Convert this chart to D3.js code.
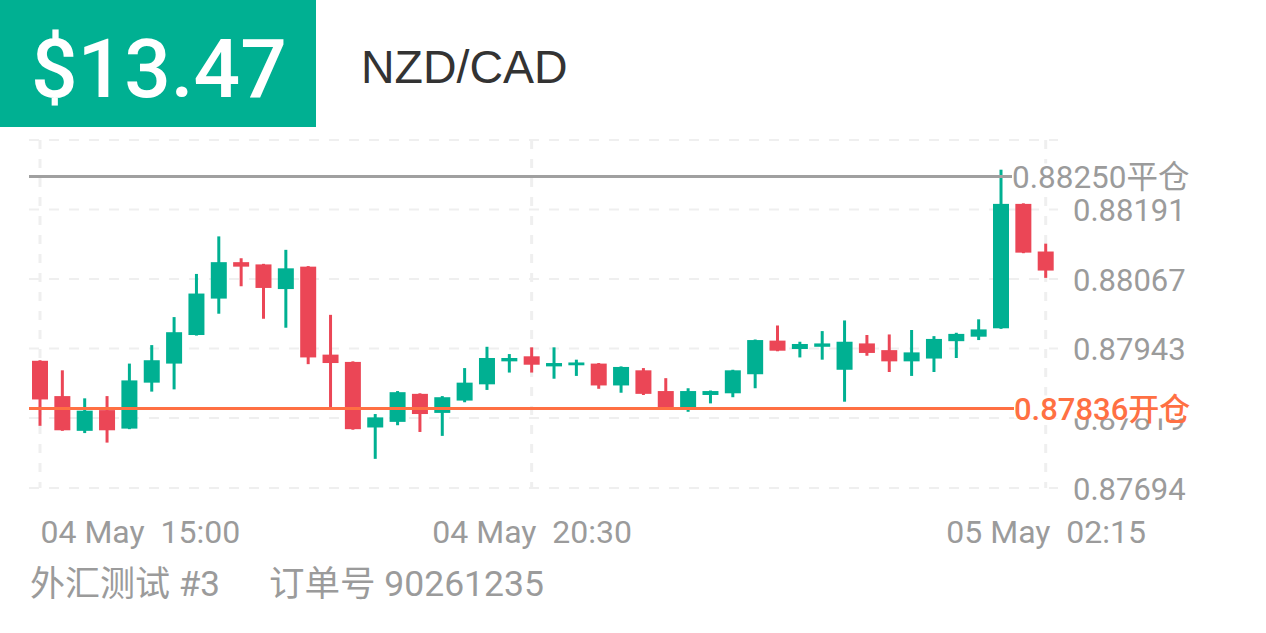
<!DOCTYPE html>
<html><head><meta charset="utf-8">
<script src="https://cdn.jsdelivr.net/npm/d3@7/dist/d3.min.js"></script>
<style>
html,body{margin:0;padding:0;background:#fff;}
svg{display:block;}
text{white-space:pre;}
</style></head>
<body>
<svg id="c" width="1266" height="633"></svg>
<script>
const categories = [
 "04 May 15:00","04 May 15:15","04 May 15:30","04 May 15:45",
 "04 May 16:00","04 May 16:15","04 May 16:30","04 May 16:45",
 "04 May 17:00","04 May 17:15","04 May 17:30","04 May 17:45",
 "04 May 18:00","04 May 18:15","04 May 18:30","04 May 18:45",
 "04 May 19:00","04 May 19:15","04 May 19:30","04 May 19:45",
 "04 May 20:00","04 May 20:15","04 May 20:30","04 May 20:45",
 "04 May 21:00","04 May 21:15","04 May 21:30","04 May 21:45",
 "04 May 22:00","04 May 22:15","04 May 22:30","04 May 22:45",
 "04 May 23:00","04 May 23:15","04 May 23:30","04 May 23:45",
 "05 May 00:00","05 May 00:15","05 May 00:30","05 May 00:45",
 "05 May 01:00","05 May 01:15","05 May 01:30","05 May 01:45",
 "05 May 02:00","05 May 02:15"
];
const openVals = [0.87921,0.87858,0.87796,0.87833,0.87800,0.87882,0.87916,0.87967,0.88032,0.88097,
 0.88093,0.88049,0.88089,0.87932,0.87919,0.87802,0.87812,0.87862,0.87828,0.87850,
 0.87879,0.87920,0.87929,0.87911,0.87913,0.87916,0.87877,0.87904,0.87867,0.87835,
 0.87860,0.87863,0.87897,0.87957,0.87942,0.87946,0.87905,0.87952,0.87940,0.87920,
 0.87925,0.87956,0.87964,0.87979,0.88201,0.88116];
const highVals = [0.87922,0.87904,0.87854,0.87858,0.87916,0.87949,0.87999,0.88076,0.88143,0.88104,
 0.88094,0.88119,0.88090,0.88003,0.87920,0.87826,0.87867,0.87863,0.87858,0.87908,
 0.87946,0.87933,0.87945,0.87945,0.87923,0.87917,0.87911,0.87908,0.87890,0.87872,
 0.87868,0.87905,0.87959,0.87984,0.87955,0.87974,0.87993,0.87967,0.87968,0.87976,
 0.87965,0.87971,0.87995,0.88262,0.88202,0.88130];
const lowVals = [0.87805,0.87796,0.87792,0.87775,0.87799,0.87866,0.87870,0.87966,0.88005,0.88054,
 0.87996,0.87980,0.87915,0.87837,0.87798,0.87746,0.87806,0.87794,0.87787,0.87847,
 0.87869,0.87900,0.87900,0.87889,0.87894,0.87871,0.87864,0.87860,0.87834,0.87830,
 0.87845,0.87856,0.87872,0.87938,0.87927,0.87923,0.87848,0.87930,0.87901,0.87894,
 0.87901,0.87926,0.87958,0.87978,0.88113,0.88069];
const closeVals = [0.87852,0.87797,0.87832,0.87797,0.87886,0.87922,0.87972,0.88041,0.88097,0.88089,
 0.88051,0.88086,0.87927,0.87917,0.87799,0.87820,0.87865,0.87826,0.87856,0.87882,
 0.87926,0.87926,0.87914,0.87917,0.87918,0.87877,0.87910,0.87862,0.87835,0.87867,
 0.87867,0.87904,0.87958,0.87939,0.87951,0.87952,0.87955,0.87935,0.87920,0.87936,
 0.87960,0.87969,0.87977,0.88201,0.88114,0.88082];
const yTicks = [0.87694,0.87819,0.87943,0.88067,0.88191,0.88315];
const yTickLabels = [0.87694,0.87819,0.87943,0.88067,0.88191];
const xTicks = ["04 May 15:00","04 May 20:30","05 May 02:15"];
const xTickLabels = ["04 May  15:00","04 May  20:30","05 May  02:15"];
const closePrice = 0.88250, openPrice = 0.87836;
const headerValue = "$13.47", symbol = "NZD/CAD";
const footerLeft = "外汇测试 #3", footerRight = "订单号 90261235";

const GREEN = "#00B092", RED = "#EB4656", ORANGE = "#FF7043", GRAY = "#A0A0A0", LABEL = "#9B9B9B";
const svg = d3.select("#c");

// header
svg.append("rect").attr("x",0).attr("y",0).attr("width",316).attr("height",127).attr("fill",GREEN);
svg.append("text").attr("x",31).attr("y",97).attr("fill","#fff")
  .style("font-family","Roboto").style("font-weight","500").style("font-size","82px").text(headerValue);
svg.append("text").attr("x",361).attr("y",83).attr("fill","#333")
  .style("font-family","'Liberation Sans', Arial").style("font-size","46.5px").text(symbol);

const x = d3.scalePoint().domain(categories).range([40, 1045.7]);
const y = d3.scaleLinear().domain([0.87694, 0.88315]).range([488, 140]);

const gridL = 29, gridR = 1058;
// horizontal grid
svg.append("g").selectAll("line").data(yTicks).join("line")
  .attr("x1",gridL).attr("x2",gridR).attr("y1",d=>y(d)).attr("y2",d=>y(d))
  .attr("stroke","#EFEFEF").attr("stroke-width",2).attr("stroke-dasharray","10,10");
// vertical grid
svg.append("g").selectAll("line").data(xTicks).join("line")
  .attr("x1",d=>x(d)).attr("x2",d=>x(d)).attr("y1",140).attr("y2",488)
  .attr("stroke","#EFEFEF").attr("stroke-width",3).attr("stroke-dasharray","9,10");

// y axis labels
const yAxis = d3.axisRight(y).tickValues(yTickLabels).tickFormat(d3.format(".5f")).tickSize(0).tickPadding(0);
const gy = svg.append("g").attr("transform","translate(1073,0)").call(yAxis);
gy.select(".domain").remove();
gy.selectAll("text").attr("fill",LABEL).style("font-family","Roboto").style("font-size","31px")
  .attr("x",0).attr("dy","0.36em");

// x axis labels
const xAxis = d3.axisBottom(x).tickValues(xTicks).tickFormat(d=>xTickLabels[xTicks.indexOf(d)]).tickSize(0).tickPadding(0);
const gx = svg.append("g").attr("transform","translate(0,531)").call(xAxis);
gx.select(".domain").remove();
gx.selectAll("text").attr("fill",LABEL).style("font-family","Roboto").style("font-size","32px")
  .attr("y",0).attr("dy","0.36em");
gx.selectAll("text").filter((d,i)=>i===0).attr("text-anchor","start");

// candles
const data = categories.map((c,i)=>({c,o:openVals[i],h:highVals[i],l:lowVals[i],cl:closeVals[i]}));
const bw = 16;
const g = svg.append("g");
const cg = g.selectAll("g").data(data).join("g");
cg.append("line").attr("x1",d=>x(d.c)).attr("x2",d=>x(d.c))
  .attr("y1",d=>y(d.h)).attr("y2",d=>y(d.l))
  .attr("stroke",d=>d.cl>=d.o?GREEN:RED).attr("stroke-width",3);
cg.append("rect").attr("x",d=>x(d.c)-bw/2).attr("width",bw)
  .attr("y",d=>y(Math.max(d.o,d.cl)))
  .attr("height",d=>Math.max(2, Math.abs(y(d.o)-y(d.cl))))
  .attr("fill",d=>d.cl>=d.o?GREEN:RED);

// price lines
svg.append("line").attr("x1",gridL).attr("x2",1012).attr("y1",y(closePrice)).attr("y2",y(closePrice))
  .attr("stroke",GRAY).attr("stroke-width",3);
svg.append("line").attr("x1",gridL).attr("x2",1014).attr("y1",y(openPrice)).attr("y2",y(openPrice))
  .attr("stroke",ORANGE).attr("stroke-width",3);
svg.append("rect").attr("x",1013).attr("y",y(closePrice)-13).attr("width",182).attr("height",25).attr("fill","#fff");
svg.append("text").attr("x",1012).attr("y",y(closePrice)).attr("dy","0.36em").attr("fill",LABEL)
  .style("font-family","Roboto, 'Noto Sans CJK SC'").style("font-size","31.5px").text(d3.format(".5f")(closePrice)+"平仓");
svg.append("rect").attr("x",1014).attr("y",y(openPrice)-13).attr("width",182).attr("height",23).attr("fill","#fff");
svg.append("text").attr("x",1014).attr("y",y(openPrice)).attr("dy","0.36em").attr("fill",ORANGE)
  .style("font-family","Roboto, 'Noto Sans CJK SC'").style("font-weight","500").style("font-size","31px").text(d3.format(".5f")(openPrice)+"开仓");

// footer
svg.append("text").attr("x",30).attr("y",596).attr("fill",LABEL)
  .style("font-family","Roboto, 'Noto Sans CJK SC'").style("font-size","35px").text(footerLeft);
svg.append("text").attr("x",269).attr("y",596).attr("fill",LABEL)
  .style("font-family","Roboto, 'Noto Sans CJK SC'").style("font-size","35.5px").text(footerRight);
</script>
</body></html>
